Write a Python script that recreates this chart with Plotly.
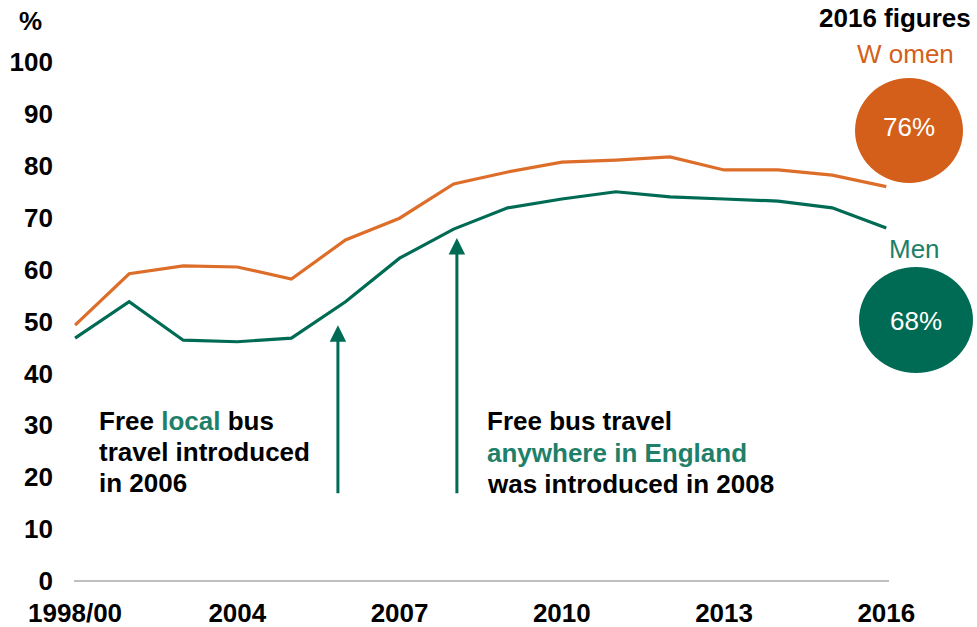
import plotly.graph_objects as go

# Survey years (index positions on the x axis)
years = ["1998/00", "2002", "2003", "2004", "2005", "2006", "2007", "2008",
         "2009", "2010", "2011", "2012", "2013", "2014", "2015", "2016"]
women = [49.3, 59.2, 60.7, 60.5, 58.2, 65.7, 69.9, 76.5,
         78.8, 80.7, 81.1, 81.7, 79.2, 79.2, 78.2, 76]
men = [46.8, 53.8, 46.4, 46.1, 46.8, 53.8, 62.2, 67.8,
       71.9, 73.6, 75.0, 74.0, 73.6, 73.2, 71.9, 68]

tick_labels = ["1998/00", "2004", "2007", "2010", "2013", "2016"]
y_ticks = list(range(0, 101, 10))

ORANGE = "#D45F1B"
ORANGE_LINE = "#DD6E2A"
GREEN = "#006B54"
GREEN_TEXT = "#1E8068"
FONT = "Liberation Sans, Arial, sans-serif"
FS = 26

x_idx = list(range(len(years)))
tick_idx = [years.index(t) for t in tick_labels]

# plot-area geometry in pixels (used to place the side panel)
W_FIG, H_FIG = 977, 627
L, R, T, B = 74, 88, 62, 46
PW = W_FIG - L - R
PH = H_FIG - T - B


def px(xp):
    return (xp - L) / PW


def py(yp):
    return (H_FIG - B - yp) / PH


fig = go.Figure()
fig.add_trace(go.Scatter(x=x_idx, y=women, mode="lines", name="Women",
                         line=dict(color=ORANGE_LINE, width=3.2),
                         hoverinfo="skip"))
fig.add_trace(go.Scatter(x=x_idx, y=men, mode="lines", name="Men",
                         line=dict(color=GREEN, width=3.2),
                         hoverinfo="skip"))

annotations = []

# "%" unit label above the y axis
annotations.append(dict(x=px(30), y=py(21), xref="paper", yref="paper",
                        text="<b>%</b>", showarrow=False,
                        xanchor="center", yanchor="middle",
                        font=dict(family=FONT, size=FS, color="black")))

# policy arrows
for xa, tip in [(years.index("2006") - 0.14, 49.3),
                (years.index("2008") + 0.06, 66.1)]:
    annotations.append(dict(x=xa, y=tip, ax=xa, ay=16.6,
                            xref="x", yref="y", axref="x", ayref="y",
                            text="", showarrow=True, arrowhead=2,
                            arrowsize=1.1, arrowwidth=3, arrowcolor=GREEN))

# annotation text blocks
block1 = ["<b>Free <span style='color:%s'>local</span> bus</b>" % GREEN_TEXT,
          "<b>travel introduced</b>",
          "<b>in 2006</b>"]
block2 = ["<b>Free bus travel</b>",
          "<b><span style='color:%s'>anywhere in England</span></b>" % GREEN_TEXT,
          "<b>was introduced in 2008</b>"]
for lines, x0, ys in [(block1, 97, [421, 452, 483]),
                      (block2, 485, [421, 453, 484])]:
    for txt, yy in zip(lines, ys):
        annotations.append(dict(x=px(x0), y=py(yy), xref="paper", yref="paper",
                                text=txt, showarrow=False, xanchor="left",
                                yanchor="middle",
                                font=dict(family=FONT, size=FS, color="black")))

# side panel with 2016 figures
annotations += [
    dict(x=px(895), y=py(18), text="<b>2016 figures</b>",
         font=dict(family=FONT, size=FS, color="black")),
    dict(x=px(905), y=py(54), text="W omen",
         font=dict(family=FONT, size=FS, color=ORANGE)),
    dict(x=px(909), y=py(127), text="%d%%" % round(women[-1]),
         font=dict(family=FONT, size=FS, color="white")),
    dict(x=px(914), y=py(249), text="Men",
         font=dict(family=FONT, size=FS, color=GREEN_TEXT)),
    dict(x=px(916), y=py(321), text="%d%%" % round(men[-1]),
         font=dict(family=FONT, size=FS, color="white")),
]
for a in annotations[-5:]:
    a.update(xref="paper", yref="paper", showarrow=False,
             xanchor="center", yanchor="middle")

shapes = [
    dict(type="circle", xref="paper", yref="paper",
         x0=px(855), x1=px(963), y0=py(183), y1=py(78),
         fillcolor=ORANGE, line=dict(width=0), layer="below"),
    dict(type="circle", xref="paper", yref="paper",
         x0=px(859), x1=px(973), y0=py(373), y1=py(267),
         fillcolor=GREEN, line=dict(width=0), layer="below"),
]

fig.update_layout(
    width=W_FIG, height=H_FIG,
    margin=dict(l=L, r=R, t=T, b=B),
    paper_bgcolor="white", plot_bgcolor="white",
    showlegend=False,
    annotations=annotations,
    shapes=shapes,
    font=dict(family=FONT, size=FS, color="black"),
)
fig.update_xaxes(range=[-0.02, 15.05], tickvals=tick_idx,
                 ticktext=["<b>%s</b>" % t for t in tick_labels],
                 showgrid=False, zeroline=False, showline=False,
                 ticks="", ticklabelstandoff=14, automargin=False,
                 tickfont=dict(family=FONT, size=FS, color="black"))
fig.update_yaxes(range=[0, 100], tickvals=y_ticks,
                 ticktext=["<b>%d</b>" % v for v in y_ticks],
                 showgrid=False, zeroline=True, zerolinecolor="#BFBFBF",
                 zerolinewidth=2, showline=False, ticks="",
                 ticklabelstandoff=20, automargin=False,
                 tickfont=dict(family=FONT, size=FS, color="black"))

fig.write_html("out.html")
